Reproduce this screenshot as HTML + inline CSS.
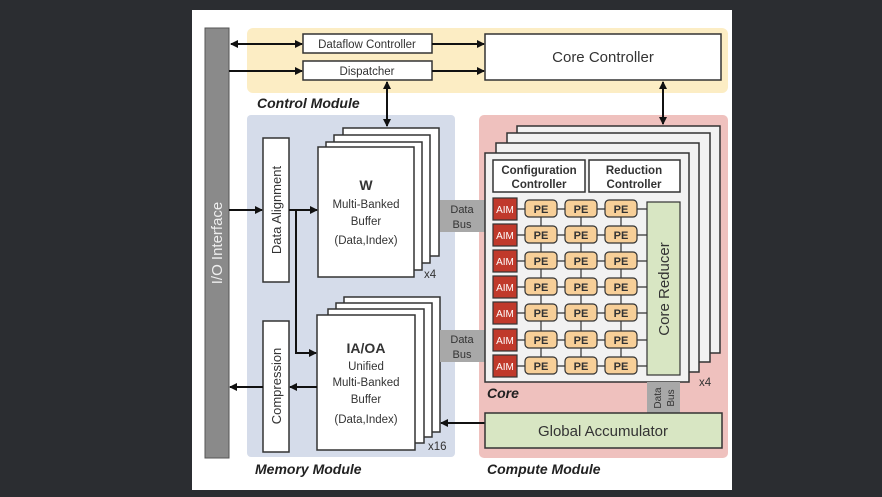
<!DOCTYPE html>
<html><head><meta charset="utf-8"><style>
html,body{margin:0;padding:0;background:#2b2d31;}
svg{display:block;}
text{font-family:"Liberation Sans",sans-serif;fill:#333;}
.i{font-style:italic;font-weight:bold;fill:#222;font-size:14px;}
</style></head><body>
<svg width="882" height="497" viewBox="0 0 882 497" xmlns="http://www.w3.org/2000/svg">
<defs>
<marker id="a" markerWidth="8" markerHeight="8" refX="7" refY="4" orient="auto-start-reverse" markerUnits="userSpaceOnUse"><path d="M0,0 L8,4 L0,8 z" fill="#111"/></marker>
</defs>
<rect x="192" y="10" width="540" height="480" fill="#fff"/>
<!-- control module -->
<rect x="247" y="28" width="481" height="65" rx="6" fill="#fcedc4"/>
<!-- memory module -->
<rect x="247" y="115" width="208" height="342" rx="4" fill="#d5dcea"/>
<!-- compute module -->
<rect x="479" y="115" width="249" height="343" rx="5" fill="#efc1be"/>
<!-- IO -->
<rect x="205" y="28" width="24" height="430" fill="#8a8a8a" stroke="#555" stroke-width="1"/>
<text transform="translate(222,243) rotate(-90)" text-anchor="middle" font-size="15" style="fill:#eee">I/O Interface</text>
<!-- control boxes -->
<rect x="303" y="34" width="129" height="19" fill="#fff" stroke="#333" stroke-width="1.5"/>
<text x="367" y="48" text-anchor="middle" font-size="11.5">Dataflow Controller</text>
<rect x="303" y="61" width="129" height="19" fill="#fff" stroke="#333" stroke-width="1.5"/>
<text x="367" y="75" text-anchor="middle" font-size="11.5">Dispatcher</text>
<rect x="485" y="34" width="236" height="46" fill="#fff" stroke="#333" stroke-width="1.5"/>
<text x="603" y="62" text-anchor="middle" font-size="15">Core Controller</text>
<g stroke="#111" stroke-width="2" fill="none">
<line x1="231" y1="44" x2="302" y2="44" marker-start="url(#a)" marker-end="url(#a)"/>
<line x1="229" y1="71" x2="302" y2="71" marker-end="url(#a)"/>
<line x1="432" y1="44" x2="484" y2="44" marker-end="url(#a)"/>
<line x1="432" y1="71" x2="484" y2="71" marker-end="url(#a)"/>
<line x1="387" y1="82" x2="387" y2="126" marker-start="url(#a)" marker-end="url(#a)"/>
<line x1="663" y1="82" x2="663" y2="124" marker-start="url(#a)" marker-end="url(#a)"/>
</g>
<text x="257" y="108" class="i">Control Module</text>
<!-- W stack -->
<g fill="#fff" stroke="#333" stroke-width="1.5">
<rect x="343" y="128" width="96" height="128"/>
<rect x="334" y="135" width="96" height="128"/>
<rect x="326" y="142" width="96" height="128"/>
<rect x="318" y="147" width="96" height="130"/>
</g>
<text x="366" y="190" text-anchor="middle" font-size="14" font-weight="bold">W</text>
<text x="366" y="208" text-anchor="middle" font-size="11.5">Multi-Banked</text>
<text x="366" y="225" text-anchor="middle" font-size="11.5">Buffer</text>
<text x="366" y="244" text-anchor="middle" font-size="11.5">(Data,Index)</text>
<text x="424" y="278" font-size="11.5">x4</text>
<!-- IA/OA stack -->
<g fill="#fff" stroke="#333" stroke-width="1.5">
<rect x="344" y="297" width="96" height="135"/>
<rect x="336" y="303" width="96" height="134"/>
<rect x="328" y="309" width="96" height="134"/>
<rect x="317" y="315" width="98" height="135"/>
</g>
<text x="366" y="353" text-anchor="middle" font-size="14" font-weight="bold">IA/OA</text>
<text x="366" y="370" text-anchor="middle" font-size="11.5">Unified</text>
<text x="366" y="386" text-anchor="middle" font-size="11.5">Multi-Banked</text>
<text x="366" y="403" text-anchor="middle" font-size="11.5">Buffer</text>
<text x="366" y="423" text-anchor="middle" font-size="11.5">(Data,Index)</text>
<text x="428" y="450" font-size="11.5">x16</text>
<!-- data alignment / compression -->
<rect x="263" y="138" width="26" height="144" fill="#fff" stroke="#333" stroke-width="1.5"/>
<text transform="translate(281,210) rotate(-90)" text-anchor="middle" font-size="13">Data Alignment</text>
<rect x="263" y="321" width="26" height="131" fill="#fff" stroke="#333" stroke-width="1.5"/>
<text transform="translate(281,386) rotate(-90)" text-anchor="middle" font-size="13">Compression</text>
<g stroke="#111" stroke-width="2" fill="none">
<line x1="229" y1="210" x2="262" y2="210" marker-end="url(#a)"/>
<line x1="289" y1="210" x2="317" y2="210" marker-end="url(#a)"/>
<polyline points="296,210 296,353 316,353" marker-end="url(#a)"/>
<line x1="317" y1="387" x2="290" y2="387" marker-end="url(#a)"/>
<line x1="263" y1="387" x2="230" y2="387" marker-end="url(#a)"/>
<line x1="485" y1="423" x2="441" y2="423" marker-end="url(#a)"/>
</g>
<text x="255" y="474" class="i">Memory Module</text>
<!-- data buses -->
<rect x="440" y="200" width="45" height="32" fill="#a8a8a8"/>
<text x="462" y="213" text-anchor="middle" font-size="11">Data</text>
<text x="462" y="228" text-anchor="middle" font-size="11">Bus</text>
<rect x="440" y="330" width="45" height="32" fill="#a8a8a8"/>
<text x="462" y="343" text-anchor="middle" font-size="11">Data</text>
<text x="462" y="358" text-anchor="middle" font-size="11">Bus</text>
<!-- core stack -->
<g fill="#f2f2f2" stroke="#333" stroke-width="1.5">
<rect x="517" y="126" width="203" height="227"/>
<rect x="507" y="133" width="203" height="229"/>
<rect x="496" y="143" width="203" height="229"/>
<rect x="485" y="153" width="204" height="229"/>
</g>
<rect x="493" y="160" width="92" height="32" fill="#fff" stroke="#333" stroke-width="1.5"/>
<text x="539" y="174" text-anchor="middle" font-size="11.5" font-weight="bold">Configuration</text>
<text x="539" y="188" text-anchor="middle" font-size="11.5" font-weight="bold">Controller</text>
<rect x="589" y="160" width="91" height="32" fill="#fff" stroke="#333" stroke-width="1.5"/>
<text x="634" y="174" text-anchor="middle" font-size="11.5" font-weight="bold">Reduction</text>
<text x="634" y="188" text-anchor="middle" font-size="11.5" font-weight="bold">Controller</text>
<!-- grid lines -->
<g stroke="#333" stroke-width="1.2">
<line x1="541" y1="209" x2="541" y2="366"/>
<line x1="581" y1="209" x2="581" y2="366"/>
<line x1="621" y1="209" x2="621" y2="366"/>
<line x1="505" y1="209" x2="647" y2="209"/>
<line x1="505" y1="235" x2="647" y2="235"/>
<line x1="505" y1="261" x2="647" y2="261"/>
<line x1="505" y1="287" x2="647" y2="287"/>
<line x1="505" y1="313" x2="647" y2="313"/>
<line x1="505" y1="340" x2="647" y2="340"/>
<line x1="505" y1="366" x2="647" y2="366"/>
</g>
<g id="rows">
<g font-size="11" font-weight="bold">
</g>
</g>
<g stroke="#333" stroke-width="1.2">
<rect x="493" y="198" width="24" height="22" fill="#c0392b"/>
<rect x="493" y="224" width="24" height="22" fill="#c0392b"/>
<rect x="493" y="250" width="24" height="22" fill="#c0392b"/>
<rect x="493" y="276" width="24" height="22" fill="#c0392b"/>
<rect x="493" y="302" width="24" height="22" fill="#c0392b"/>
<rect x="493" y="329" width="24" height="22" fill="#c0392b"/>
<rect x="493" y="355" width="24" height="22" fill="#c0392b"/>
</g>
<g font-size="10" text-anchor="middle" style="fill:#fff">
<text x="505" y="213" style="fill:#fff">AIM</text><text x="505" y="239" style="fill:#fff">AIM</text><text x="505" y="265" style="fill:#fff">AIM</text><text x="505" y="291" style="fill:#fff">AIM</text><text x="505" y="317" style="fill:#fff">AIM</text><text x="505" y="344" style="fill:#fff">AIM</text><text x="505" y="370" style="fill:#fff">AIM</text>
</g>
<g fill="#f7cf98" stroke="#333" stroke-width="1.2">
<rect x="525" y="200" width="32" height="17" rx="4"/><rect x="565" y="200" width="32" height="17" rx="4"/><rect x="605" y="200" width="32" height="17" rx="4"/>
<rect x="525" y="226" width="32" height="17" rx="4"/><rect x="565" y="226" width="32" height="17" rx="4"/><rect x="605" y="226" width="32" height="17" rx="4"/>
<rect x="525" y="252" width="32" height="17" rx="4"/><rect x="565" y="252" width="32" height="17" rx="4"/><rect x="605" y="252" width="32" height="17" rx="4"/>
<rect x="525" y="278" width="32" height="17" rx="4"/><rect x="565" y="278" width="32" height="17" rx="4"/><rect x="605" y="278" width="32" height="17" rx="4"/>
<rect x="525" y="304" width="32" height="17" rx="4"/><rect x="565" y="304" width="32" height="17" rx="4"/><rect x="605" y="304" width="32" height="17" rx="4"/>
<rect x="525" y="331" width="32" height="17" rx="4"/><rect x="565" y="331" width="32" height="17" rx="4"/><rect x="605" y="331" width="32" height="17" rx="4"/>
<rect x="525" y="357" width="32" height="17" rx="4"/><rect x="565" y="357" width="32" height="17" rx="4"/><rect x="605" y="357" width="32" height="17" rx="4"/>
</g>
<g font-size="11" font-weight="bold" text-anchor="middle">
<text x="541" y="213">PE</text><text x="581" y="213">PE</text><text x="621" y="213">PE</text>
<text x="541" y="239">PE</text><text x="581" y="239">PE</text><text x="621" y="239">PE</text>
<text x="541" y="265">PE</text><text x="581" y="265">PE</text><text x="621" y="265">PE</text>
<text x="541" y="291">PE</text><text x="581" y="291">PE</text><text x="621" y="291">PE</text>
<text x="541" y="317">PE</text><text x="581" y="317">PE</text><text x="621" y="317">PE</text>
<text x="541" y="344">PE</text><text x="581" y="344">PE</text><text x="621" y="344">PE</text>
<text x="541" y="370">PE</text><text x="581" y="370">PE</text><text x="621" y="370">PE</text>
</g>
<rect x="647" y="202" width="33" height="173" fill="#d8e6c3" stroke="#333" stroke-width="1.2"/>
<text transform="translate(669,289) rotate(-90)" text-anchor="middle" font-size="15">Core Reducer</text>
<text x="699" y="386" font-size="11.5">x4</text>
<text x="487" y="398" class="i">Core</text>
<rect x="647" y="382" width="33" height="31" fill="#a8a8a8"/>
<text transform="translate(661,398) rotate(-90)" text-anchor="middle" font-size="10">Data</text>
<text transform="translate(674,398) rotate(-90)" text-anchor="middle" font-size="10">Bus</text>
<rect x="485" y="413" width="237" height="35" fill="#d8e6c3" stroke="#333" stroke-width="1.5"/>
<text x="603" y="436" text-anchor="middle" font-size="15">Global Accumulator</text>
<text x="487" y="474" class="i">Compute Module</text>
</svg>
</body></html>
